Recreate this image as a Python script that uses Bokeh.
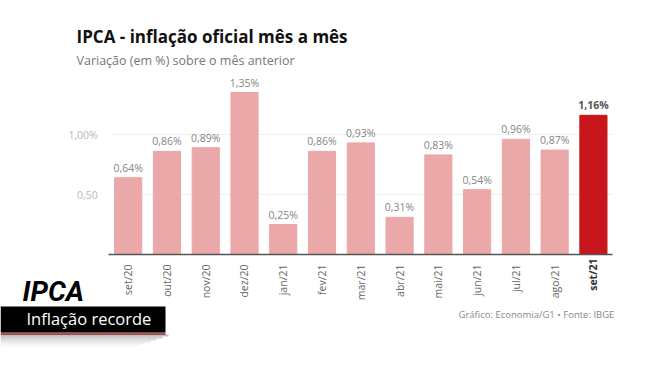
import math
from bokeh.plotting import figure
from bokeh.models import ColumnDataSource, FixedTicker, Label, BoxAnnotation, Range1d
from bokeh.core.properties import value
from bokeh.embed import file_html
from bokeh.resources import INLINE

months = ["set/20", "out/20", "nov/20", "dez/20", "jan/21", "fev/21", "mar/21",
          "abr/21", "mai/21", "jun/21", "jul/21", "ago/21", "set/21"]
ipca = [0.64, 0.86, 0.89, 1.35, 0.25, 0.86, 0.93, 0.31, 0.83, 0.54, 0.96, 0.87, 1.16]
value_labels = ["0,64%", "0,86%", "0,89%", "1,35%", "0,25%", "0,86%", "0,93%",
                "0,31%", "0,83%", "0,54%", "0,96%", "0,87%", "1,16%"]
y_ticks = [0.5, 1.0]
y_tick_labels = ["0,50", "1,00%"]

PINK = "#eaa8a8"
RED = "#c8161c"
FONT = "Open Sans"
NARROW = "Roboto"

W, H = 669, 371
BAND_LEFT = 108.3     # page x where the first category band starts
PITCH = 38.77         # page px per category
BASE_Y = 254.0        # page y of the zero line
YPX = 120.0           # page px per unit on y
SHIFT = 0.4           # baseline correction, fraction of font size

x_start = -0.5 - BAND_LEFT / PITCH
x_end = x_start + W / PITCH
y_end = BASE_Y / YPX
y_start = y_end - H / YPX

n = len(months)
idx = list(range(n))
colors = [PINK] * (n - 1) + [RED]
lcolors = ["#858585"] * (n - 1) + ["#555555"]
styles = ["normal"] * (n - 1) + ["bold"]
src = ColumnDataSource(dict(x=idx, top=ipca, color=colors, label=value_labels,
                            lcolor=lcolors, style=styles))

p = figure(x_range=Range1d(x_start, x_end), y_range=Range1d(y_start, y_end),
           width=W, height=H, title=None,
           output_backend="svg", toolbar_location=None,
           min_border_left=0, min_border_right=0, min_border_top=0,
           min_border_bottom=0)
p.outline_line_color = None
p.background_fill_color = "white"
p.border_fill_color = "white"
p.xgrid.visible = False
p.ygrid.visible = False

# horizontal grid lines, limited to the category area
p.segment(x0=[-0.45] * len(y_ticks), x1=[n - 0.5] * len(y_ticks), y0=y_ticks, y1=y_ticks,
          line_color="#eeeeee", line_width=1)

p.vbar(x="x", top="top", width=0.70, source=src, fill_color="color",
       line_color="color")
p.text(x="x", y="top", text="label", source=src, text_align="center",
       text_baseline="alphabetic", y_offset=-10, text_font=value(FONT),
       text_font_size="10.5px", text_color="lcolor", text_font_style="style")

# y axis, drawn at the left edge of the category bands
p.yaxis.fixed_location = -0.5
p.yaxis.ticker = FixedTicker(ticks=y_ticks)
p.yaxis.major_label_overrides = {t: l for t, l in zip(y_ticks, y_tick_labels)}
p.yaxis.axis_line_color = None
p.yaxis.major_tick_line_color = None
p.yaxis.minor_tick_line_color = None
p.yaxis.major_label_text_font = FONT
p.yaxis.major_label_text_font_size = "10.5px"
p.yaxis.major_label_text_color = "#b8b8b8"
p.yaxis.major_label_standoff = 5

# x axis on the zero line
p.xaxis.fixed_location = 0
p.xaxis.bounds = (-0.5, n - 0.5)
p.xaxis.ticker = FixedTicker(ticks=idx)
overrides = {i: m for i, m in zip(idx, months)}
overrides[n - 1] = ""
p.xaxis.major_label_overrides = overrides
p.xaxis.axis_line_color = "#555555"
p.xaxis.axis_line_width = 1.5
p.xaxis.major_tick_line_color = None
p.xaxis.minor_tick_line_color = None
p.xaxis.major_label_orientation = math.pi / 2
p.xaxis.major_label_text_font = FONT
p.xaxis.major_label_text_font_size = "10.5px"
p.xaxis.major_label_text_color = "#666666"
p.xaxis.major_label_standoff = 4


def dx(px):
    return x_start + px / PITCH


def dy(py):
    return y_end - py / YPX


def base(py, size):
    return dy(py - SHIFT * size)


# bold last month label
p.text(x=[idx[-1]], y=[0], text=[months[-1]], angle=math.pi / 2, y_offset=4,
       text_align="right", text_baseline="middle", text_font=value(FONT),
       text_font_size="10.5px", text_font_style="bold", text_color="#333333")

# title / subtitle / source
p.add_layout(Label(x=dx(76), y=base(43, 17), text="IPCA - inflação oficial mês a mês",
                   text_font=FONT, text_font_size="17px", text_font_style="bold",
                   text_color="#111111", text_baseline="alphabetic"))
p.add_layout(Label(x=dx(76), y=base(65, 12.5), text="Variação (em %) sobre o mês anterior",
                   text_font=FONT, text_font_size="12.5px", text_color="#777777",
                   text_baseline="alphabetic"))
p.add_layout(Label(x=dx(458), y=base(318, 9.5), text="Gráfico: Economia/G1 • Fonte: IBGE",
                   text_font=FONT, text_font_size="9.5px", text_color="#888888",
                   text_baseline="alphabetic"))

# overlay banner with soft shadow
shadow_alpha = [0.42, 0.32, 0.23, 0.15, 0.09, 0.05]
for i, a in enumerate(shadow_alpha):
    p.add_layout(BoxAnnotation(left=dx(0), right=dx(168 - i * 6), top=dy(334 + i * 2),
                               bottom=dy(336 + i * 2), fill_color="#666666",
                               fill_alpha=a, line_color=None))
p.add_layout(BoxAnnotation(left=dx(0), right=dx(165), top=dy(332), bottom=dy(334.5),
                           fill_color="#8e1b1b", fill_alpha=0.75, line_color=None))
p.add_layout(BoxAnnotation(left=dx(0), right=dx(165), top=dy(306), bottom=dy(332),
                           fill_color="black", fill_alpha=1, line_color=None))
p.add_layout(Label(x=dx(26), y=base(325, 16.5), text="Inflação recorde", text_font=FONT,
                   text_font_size="16.5px", text_color="white",
                   text_baseline="alphabetic"))
p.add_layout(Label(x=dx(22), y=base(302, 28), text="IPCA", text_font=NARROW,
                   text_font_size="28px", text_font_style="bold italic",
                   text_color="black", text_baseline="alphabetic"))

open("out.html", "w").write(file_html(p, INLINE))
